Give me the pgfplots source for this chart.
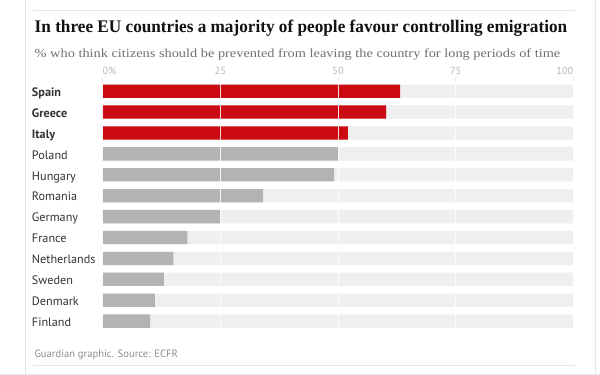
\documentclass[border=0pt]{standalone}
\usepackage{fontspec}
\setmainfont{Liberation Serif}
\newfontfamily\sans{PT Sans}
\usepackage{graphicx}
\usepackage{pgfplots}
\pgfplotsset{compat=1.18}
\definecolor{gred}{HTML}{CC0A11}
\definecolor{ggray}{HTML}{B3B3B3}
\definecolor{gbg}{HTML}{EFEFEF}
\definecolor{gtext}{HTML}{333333}
\definecolor{gsub}{HTML}{707070}
\definecolor{gtick}{HTML}{B8B8B8}
\definecolor{gframe}{HTML}{E6E6E6}
\begin{document}
\begin{tikzpicture}
\path[use as bounding box] (0,0) rectangle (600pt,375pt);
\fill[white] (0,0) rectangle (600pt,375pt);
% frame lines
\draw[gframe, line width=0.8pt] (25pt,0) -- (25pt,375pt);
\draw[gframe, line width=0.8pt] (595pt,0) -- (595pt,375pt);
\draw[gframe, line width=0.8pt] (33pt,365pt) -- (575pt,365pt);
\draw[gframe, line width=0.8pt] (33pt,10pt) -- (575pt,10pt);
\draw[gframe, line width=0.6pt] (0,0.5pt) -- (600pt,0.5pt);
% title and subtitle
\node[anchor=base west, inner sep=0pt, text=black!93] at (34.5pt,342.7pt)
  {\resizebox{532.5pt}{\height}{\fontsize{17.7}{20}\selectfont\bfseries In three EU countries a majority of people favour controlling emigration}};
\node[anchor=base west, inner sep=0pt, text=gsub] at (34.5pt,317.7pt)
  {\resizebox{525.5pt}{\height}{\fontsize{12.3}{14}\selectfont \% who think citizens should be prevented from leaving the country for long periods of time}};
\node[anchor=base west, inner sep=0pt, text=gsub!80] at (34.3pt,17.7pt)
  {\sans\fontsize{10.6}{12}\selectfont Guardian graphic. Source: ECFR};
\begin{axis}[
  at={(102.7pt,43.4pt)}, anchor=south west,
  scale only axis, width=470.6pt, height=250.9pt,
  xmin=0, xmax=100, ymin=-0.5, ymax=11.5, y dir=reverse,
  axis line style={draw=none},
  xtick={0,25,50,75,100},
  xticklabels={\makebox[0pt][l]{0\%},25,50,75,\makebox[0pt][r]{100}},
  xticklabel pos=upper, xtick pos=upper,
  xticklabel style={anchor=base, yshift=3.6pt, text=gtick, font=\sans\fontsize{10.3}{12}\selectfont},
  xtick style={draw=gframe, line width=0.6pt},
  major tick length=2.5pt, tick align=outside,
  ytick={0,...,11}, ytick style={draw=none},
  yticklabels={\textbf{Spain},\textbf{Greece},\textbf{Italy},Poland,Hungary,Romania,Germany,France,Netherlands,Sweden,Denmark,Finland},
  yticklabel style={anchor=base west, inner sep=0pt, xshift=-68.4pt, yshift=-5.3pt, text=gtext, font=\sans\fontsize{12.2}{14}\selectfont},
  xmajorgrids, major grid style={white, opacity=0.85, line width=0.6pt},
  axis on top,
  xbar, bar width=13.3pt,
]
\addplot[xbar, bar shift=0pt, fill=gbg, draw=none] coordinates {
  (100,0) (100,1) (100,2) (100,3) (100,4) (100,5) (100,6) (100,7) (100,8) (100,9) (100,10) (100,11)};
\addplot[xbar, bar shift=0pt, fill=gred, draw=none] coordinates {
  (63.2,0) (60.2,1) (52.1,2)};
\addplot[xbar, bar shift=0pt, fill=ggray, draw=none] coordinates {
  (50.1,3) (49.2,4) (34.1,5) (24.9,6) (18.0,7) (15.0,8) (13.0,9) (11.1,10) (10.1,11)};
\end{axis}
\end{tikzpicture}
\end{document}
